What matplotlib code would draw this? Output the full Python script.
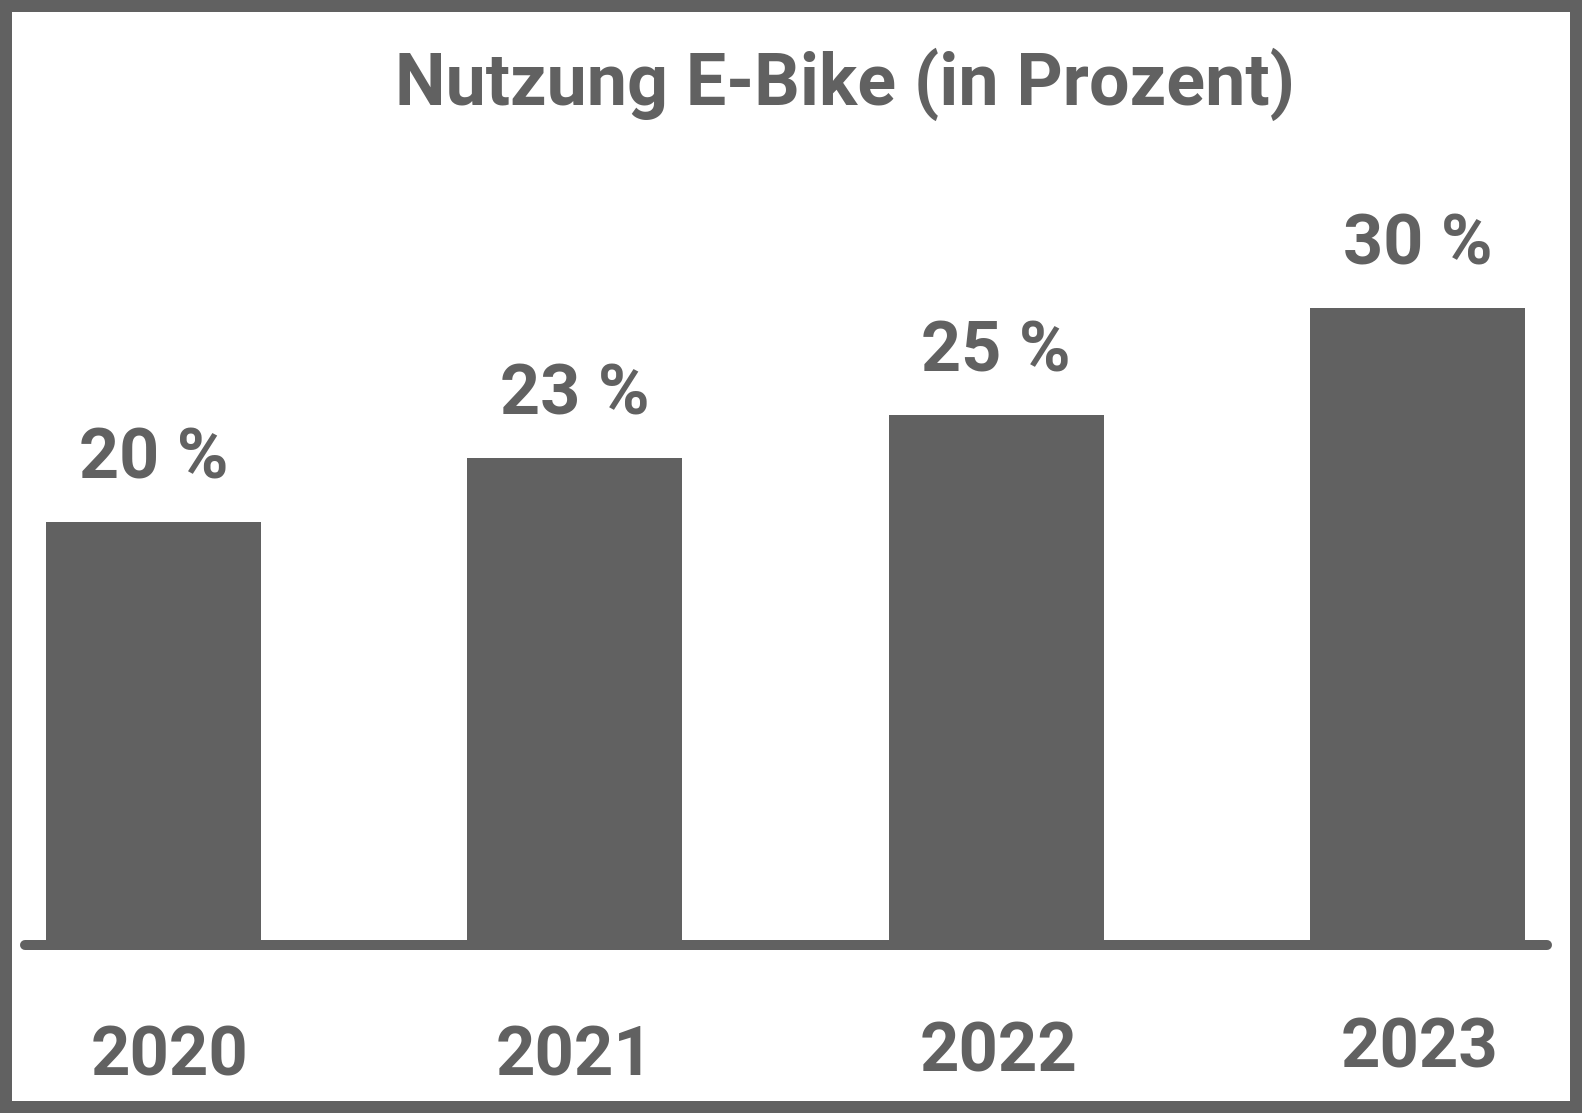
import matplotlib
matplotlib.use("Agg")
import matplotlib.pyplot as plt
from matplotlib.patches import Rectangle

# ------------------ Daten ----------------------
jahre = ["2020", "2021", "2022", "2023"]
nutzung = [20, 23, 25, 30]
titel = "Nutzung E-Bike (in Prozent)"

grau = "#616161"
plt.rcParams["font.family"] = ["Roboto", "DejaVu Sans"]

W, H = 1582, 1113
fig = plt.figure(figsize=(W / 100, H / 100), dpi=100)
fig.patch.set_facecolor("white")

# Achse: Unterkante = Nullpunkt der Balken (Unterkante der Grundlinie)
null_px = 950
px_pro_prozent = 21.4
ax = fig.add_axes([0, (H - null_px) / H, 1, null_px / H])
abstand = 421.3
x0 = 153.5
ax.set_xlim(-x0 / abstand, (W - x0) / abstand)
ax.set_ylim(0, null_px / px_pro_prozent)
ax.axis("off")

pos = list(range(len(jahre)))
ax.bar(pos, nutzung, width=0.51, color=grau, zorder=2)

# Grundlinie mit runden Enden
ax.plot([(25 - x0) / abstand, (1547 - x0) / abstand], [5 / px_pro_prozent] * 2,
        color=grau, lw=7.2, solid_capstyle="round", clip_on=False, zorder=3)

# kleine Verschiebungen der Jahreszahlen (Pixel)
jahr_dx = [16, 0, 2, 2.5]
jahr_dy = [-125, -125, -122, -117]

for i, wert in enumerate(nutzung):
    ax.annotate(f"{wert} %", (pos[i], wert), xytext=(0, 31), textcoords="offset points",
                ha="center", va="baseline", fontsize=50.5, fontweight="bold", color=grau)
    ax.annotate(jahre[i], (pos[i], 0), xytext=(jahr_dx[i] * 0.72, jahr_dy[i] * 0.72),
                textcoords="offset points", ha="center", va="baseline", fontsize=49.5,
                fontweight="bold", color=grau, annotation_clip=False)

fig.text(845 / W, (H - 105) / H, titel, ha="center", va="baseline",
         fontsize=51.7, fontweight="bold", color=grau)

# Rahmen
fig.patches.append(Rectangle((6 / W, 6 / H), 1 - 12 / W, 1 - 12 / H, transform=fig.transFigure,
                             fill=False, edgecolor=grau, lw=8.64, zorder=10))

fig.savefig("out.png", dpi=100)
